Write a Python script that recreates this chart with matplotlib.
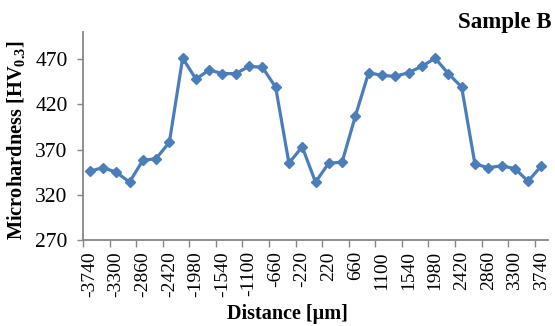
import matplotlib
matplotlib.use("Agg")
import matplotlib.pyplot as plt
from matplotlib.ticker import FixedLocator

distance = list(range(-3740, 3741, 220))
hardness = [346, 350, 345, 334, 358, 360, 378, 471, 448, 458, 454, 454, 462, 461, 439,
            355, 373, 334, 355, 356, 407, 455, 452, 451, 455, 462, 471, 454, 439,
            354, 350, 352, 349, 335, 352]
yticks = [270, 320, 370, 420, 470]
title = "Sample B"
xlabel = "Distance [µm]"
ylabel = r"Microhardness [HV$_{\mathbf{0.3}}$]"

plt.rcParams['font.family'] = ['Liberation Serif', 'DejaVu Serif']
plt.rcParams['mathtext.fontset'] = 'custom'
plt.rcParams['mathtext.bf'] = 'Liberation Serif:bold'
plt.rcParams['mathtext.rm'] = 'Liberation Serif'

fig = plt.figure(figsize=(5.55, 3.26), dpi=100)
ax = fig.add_axes([83/555, 1 - 240/326, (548 - 83)/555, (240 - 32)/326])

x = list(range(len(distance)))
ax.plot(x, hardness, color='#4A7EBB', lw=2.3, marker='D', ms=5.5,
        markerfacecolor='#4A7EBB', markeredgecolor='#4A7EBB')

ax.set_xlim(-0.5, len(distance) - 0.5)
ax.set_ylim(270, 500)
ax.set_yticks(yticks)
ax.set_yticklabels([str(v) for v in yticks], fontsize=15.5)

ax.xaxis.set_major_locator(FixedLocator(x[::2]))
ax.set_xticklabels([str(d) for d in distance[::2]], rotation=90, fontsize=14)
ax.xaxis.set_minor_locator(FixedLocator([i - 0.5 for i in range(0, len(distance), 2)]))
ax.tick_params(axis='x', which='major', length=0, pad=8)
ax.tick_params(axis='x', which='minor', length=5, width=1, color='#868686', direction='out')
ax.tick_params(axis='y', length=4, width=1, color='#868686', pad=7)

for s in ['top', 'right']:
    ax.spines[s].set_visible(False)
for s in ['left', 'bottom']:
    ax.spines[s].set_color('#868686')
    ax.spines[s].set_linewidth(1.3)

fig.text(287/555, 1 - 319.5/326, xlabel, fontsize=14.5, fontweight='bold',
         ha='center', va='baseline')
fig.text(17/555, 1 - 140/326, ylabel, fontsize=14.7, fontweight='bold',
         ha='center', va='center', rotation=90)
fig.text(551/555, 1 - 28/326, title, fontsize=16.5, fontweight='bold', ha='right', va='baseline')

fig.savefig("out.png", dpi=100)
